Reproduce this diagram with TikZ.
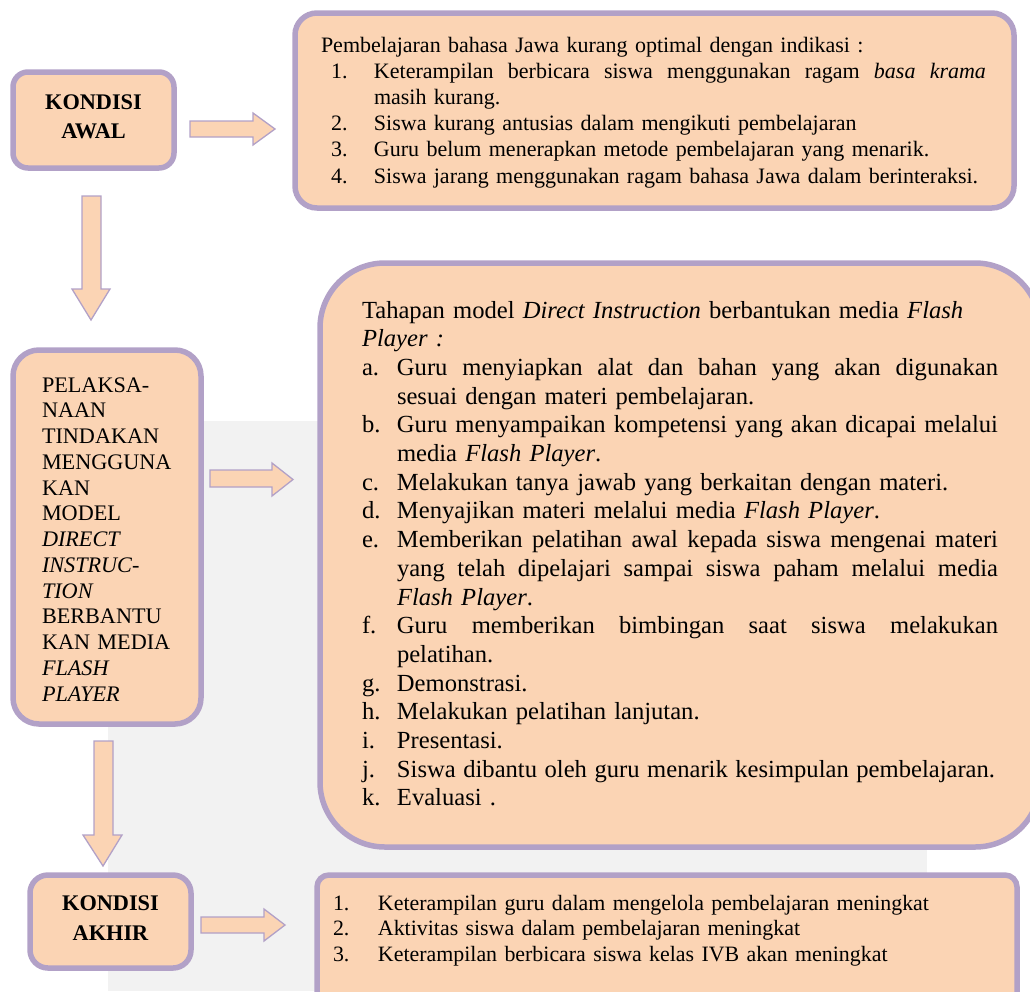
\documentclass[tikz,border=0pt]{standalone}
\usepackage{fontspec}
\setmainfont{Liberation Serif}
\definecolor{boxfill}{HTML}{FBD4B4}
\definecolor{boxline}{HTML}{B2A1C7}
\definecolor{wmgrey}{HTML}{F2F2F2}
\newcommand\jbox[2]{\hbox to #1{\spaceskip=0.25em plus 1fil\relax #2}}
\tikzset{
  box/.style={draw=boxline, fill=boxfill, line width=5.5pt, inner sep=0pt, outer sep=0pt},
  barrow/.style={draw=boxline, fill=boxfill, line width=1.3pt, line join=miter},
  txt/.style={inner sep=0pt, outer sep=0pt, align=left},
  smallfont/.style={font=\fontsize{22}{26.2}\selectfont},
}
\begin{document}
\begin{tikzpicture}[x=1pt,y=-1pt]
\useasboundingbox (0,0) rectangle (1030,991);
\clip (0,0) rectangle (1030,991);
% faint background (scan watermark area)
\fill[wmgrey] (108,421) rectangle (927,991);

% boxes
\node[box, rounded corners=15pt, minimum width=161pt, minimum height=96pt] (ka) at (93.5,120) {};
\node[box, rounded corners=22pt, minimum width=719pt, minimum height=195pt] (top) at (654.5,110.5) {};
\node[box, rounded corners=26pt, minimum width=188pt, minimum height=374pt] (pel) at (107,537) {};
\node[box, rounded corners=65pt, minimum width=720pt, minimum height=584pt] (big) at (680,555) {};
\node[box, rounded corners=12pt, minimum width=700pt, minimum height=140pt] (bot) at (667,945) {};
\node[box, rounded corners=18pt, minimum width=161pt, minimum height=93pt] (kak) at (110.5,921.5) {};

% block arrows
\draw[barrow] (190,121)--(253,121)--(253,113)--(275,129)--(253,145)--(253,137)--(190,137)--cycle;
\draw[barrow] (210,470)--(272,470)--(272,463)--(293,479.5)--(272,496)--(272,487)--(210,487)--cycle;
\draw[barrow] (201,917)--(264,917)--(264,909)--(285,925)--(264,941)--(264,933)--(201,933)--cycle;
\draw[barrow] (82,196)--(101,196)--(101,289)--(110,289)--(91,320)--(72,289)--(82,289)--cycle;
\draw[barrow] (94,741)--(113,741)--(113,835)--(122,835)--(103,866)--(83,835)--(94,835)--cycle;

% texts
\node[txt, anchor=base, text width=150pt, align=center, font=\fontsize{22.3}{29}\selectfont\bfseries] (kat) at (93.5,109.3) {KONDISI\\AWAL};
\node[txt, anchor=base, text width=150pt, align=center, font=\fontsize{22.3}{29.3}\selectfont\bfseries] (kakt) at (110.5,910.7) {KONDISI\\AKHIR};

\node[txt, anchor=base west, text width=680pt, smallfont] (topt) at (321,52) {%
Pembelajaran bahasa Jawa kurang optimal dengan indikasi :\\
\hspace*{10pt}\makebox[43pt][l]{1.}\jbox{612pt}{Keterampilan berbicara siswa menggunakan ragam \textit{basa krama}}\\
\hspace*{53pt}masih kurang.\\
\hspace*{10pt}\makebox[43pt][l]{2.}Siswa kurang antusias dalam mengikuti pembelajaran\\
\hspace*{10pt}\makebox[43pt][l]{3.}Guru belum menerapkan metode pembelajaran yang menarik.\\
\hspace*{10pt}\makebox[43pt][l]{4.}Siswa jarang menggunakan ragam bahasa Jawa dalam berinteraksi.};

\node[txt, anchor=base west, text width=160pt, font=\fontsize{22.2}{25.75}\selectfont] (pelt) at (42,392) {%
PELAKSA-\\NAAN\\TINDAKAN\\MENGGUNA\\KAN\\MODEL\\\textit{DIRECT}\\\textit{INSTRUC-}\\\textit{TION}\\BERBANTU\\KAN MEDIA\\\textit{FLASH}\\\textit{PLAYER}};

\node[txt, anchor=base west, text width=660pt, font=\fontsize{24.6}{28.7}\selectfont] (bigt) at (362,318) {%
Tahapan model \textit{Direct Instruction} berbantukan media \textit{Flash}\\
\textit{Player :}\\
\makebox[35pt][l]{a.}\jbox{601pt}{Guru menyiapkan alat dan bahan yang akan digunakan}\\
\hspace*{35pt}sesuai dengan materi pembelajaran.\\
\makebox[35pt][l]{b.}\jbox{601pt}{Guru menyampaikan kompetensi yang akan dicapai melalui}\\
\hspace*{35pt}media \textit{Flash Player}.\\
\makebox[35pt][l]{c.}Melakukan tanya jawab yang berkaitan dengan materi.\\
\makebox[35pt][l]{d.}Menyajikan materi melalui media \textit{Flash Player}.\\
\makebox[35pt][l]{e.}\jbox{601pt}{Memberikan pelatihan awal kepada siswa mengenai materi}\\
\hspace*{35pt}\jbox{601pt}{yang telah dipelajari sampai siswa paham melalui media}\\
\hspace*{35pt}\textit{Flash Player}.\\
\makebox[35pt][l]{f.}\jbox{601pt}{Guru memberikan bimbingan saat siswa melakukan}\\
\hspace*{35pt}pelatihan.\\
\makebox[35pt][l]{g.}Demonstrasi.\\
\makebox[35pt][l]{h.}Melakukan pelatihan lanjutan.\\
\makebox[35pt][l]{i.}Presentasi.\\
\makebox[35pt][l]{j.}\jbox{598pt}{Siswa dibantu oleh guru menarik kesimpulan pembelajaran.}\\
\makebox[35pt][l]{k.}Evaluasi .};

\node[txt, anchor=base west, text width=680pt, font=\fontsize{21.9}{25.7}\selectfont] (bott) at (333,910) {%
\makebox[45pt][l]{1.}Keterampilan guru dalam mengelola pembelajaran meningkat\\
\makebox[45pt][l]{2.}Aktivitas siswa dalam pembelajaran meningkat\\
\makebox[45pt][l]{3.}Keterampilan berbicara siswa kelas IVB akan meningkat};
\end{tikzpicture}
\end{document}
